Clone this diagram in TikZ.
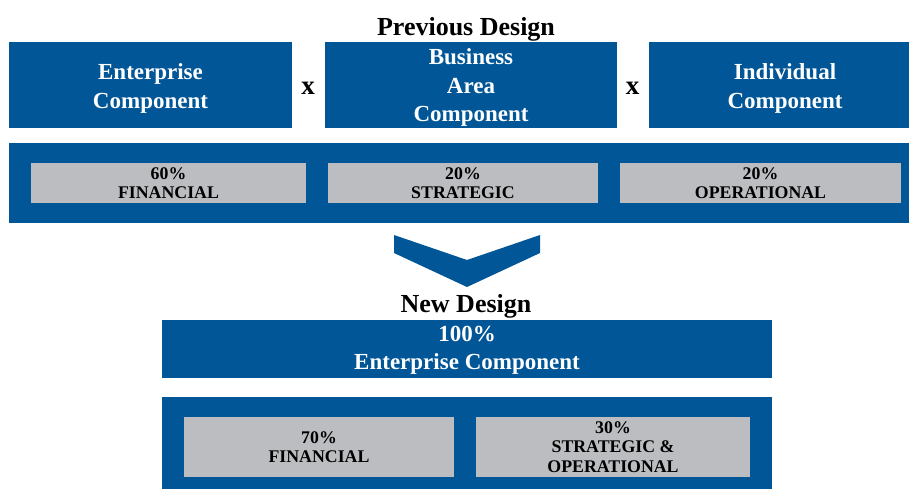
\documentclass[tikz,border=0pt]{standalone}
\usepackage{fontspec}
\setmainfont{Liberation Serif}
\definecolor{dblue}{RGB}{0,86,151}
\definecolor{lgray}{RGB}{187,189,192}
\tikzset{
  bluebox/.style={fill=dblue, draw=none, inner sep=0pt, text=white, align=center,
    font=\bfseries\fontsize{23}{28.5}\selectfont},
  band/.style={fill=dblue, draw=none, inner sep=0pt},
  graybox/.style={fill=lgray, draw=none, inner sep=0pt, text=black, align=center,
    font=\bfseries\fontsize{17.8}{19.6}\selectfont},
  header/.style={inner sep=0pt, font=\bfseries\fontsize{26}{30}\selectfont, anchor=base},
  times/.style={inner sep=0pt, font=\bfseries\fontsize{27}{30}\selectfont},
}
\begin{document}
\begin{tikzpicture}[x=1pt,y=-1pt]
\useasboundingbox (0,0) rectangle (909,489);
\clip (0,0) rectangle (909,489);
% headers
\node[header] (prev) at (466,35.5) {Previous Design};
% top component boxes
\node[bluebox, minimum width=283pt, minimum height=86pt] (ent) at (150.5,85) {};
\node[bluebox, minimum width=292pt, minimum height=86pt] (bus) at (471,85) {};
\node[bluebox, minimum width=272pt, minimum height=86pt] (ind) at (785,85) {};
\node[bluebox, yshift=-3.5pt] (entt) at (ent.center) {Enterprise\\Component};
\node[bluebox, yshift=-2.5pt] (bust) at (bus.center) {Business\\Area\\Component};
\node[bluebox, yshift=-3.5pt] (indt) at (ind.center) {Individual\\Component};
\node[times] (x1) at (308,88.5) {x};
\node[times] (x2) at (632.5,88.5) {x};
% band 1
\node[band, minimum width=912pt, minimum height=80pt] (band1) at (465,182.8) {};
\node[graybox, minimum width=275pt, minimum height=40pt] (g1) at (168.5,183) {60\%\\FINANCIAL};
\node[graybox, minimum width=270pt, minimum height=40pt] (g2) at (463,183) {20\%\\STRATEGIC};
\node[graybox, minimum width=281pt, minimum height=40pt] (g3) at (760.5,183) {20\%\\OPERATIONAL};
% chevron
\fill[dblue] (394,235) -- (467,260) -- (540,235) -- (540,253) -- (467,287) -- (394,253) -- cycle;
% new design
\node[header] (new) at (466,312.5) {New Design};
\node[bluebox, minimum width=610pt, minimum height=58pt] (ent2) at (467,349) {};
\node[bluebox, yshift=-1.5pt] (ent2t) at (ent2.center) {100\%\\Enterprise Component};
\node[band, minimum width=610pt, minimum height=94pt] (band2) at (467,444) {};
\node[graybox, minimum width=270pt, minimum height=60pt] (g4) at (319,447) {70\%\\FINANCIAL};
\node[graybox, minimum width=274pt, minimum height=60pt] (g5) at (613,447) {30\%\\STRATEGIC \&\\OPERATIONAL};
\end{tikzpicture}
\end{document}
